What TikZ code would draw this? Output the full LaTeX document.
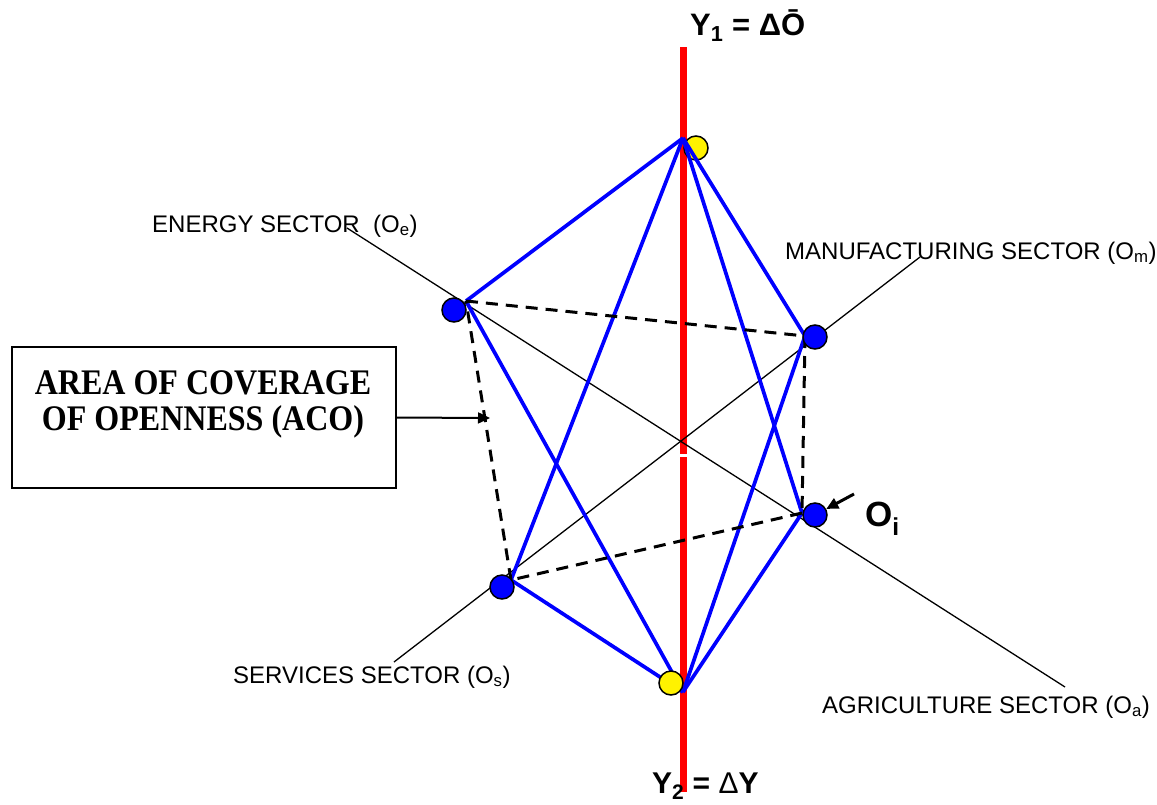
\documentclass[tikz,border=0pt]{standalone}
\usepackage{fontspec}
\usepackage{graphicx}
\setmainfont{Liberation Sans}
\newfontfamily\timesfont{Liberation Serif}
\usetikzlibrary{arrows.meta}

\begin{document}
\begin{tikzpicture}[x=1pt,y=-1pt,
  redaxis/.style={draw=red,line width=7pt},
  sectoraxis/.style={draw=black,line width=1.3pt},
  edge/.style={draw=blue,line width=3.7pt},
  cover/.style={draw=black,line width=3pt,dash pattern=on 12pt off 8pt},
  sector/.style={circle,draw=black,line width=1.5pt,fill=blue,minimum size=24pt,inner sep=0pt},
  apex/.style={circle,draw=black,line width=1.5pt,fill=yellow,minimum size=24pt,inner sep=0pt},
  lab/.style={font=\fontsize{24}{28}\selectfont,anchor=base west,inner sep=0pt},
  pointer/.style={draw=black,line width=2pt,-{Triangle[length=12pt,width=11pt]}},
  acoline/.style={font=\timesfont\bfseries\fontsize{36}{28}\selectfont,anchor=base,inner sep=0pt}
]
\useasboundingbox (0,0) rectangle (1157,804);

% vertical axis Y, with its small break at the origin
\coordinate (ytop) at (683,47);
\coordinate (ymidA) at (683,454);
\coordinate (ymidB) at (683,457);
\coordinate (ybot) at (683,792);
\draw[redaxis] (ytop) -- (ymidA);
\draw[redaxis] (ymidB) -- (ybot);

% yellow marker at the upper apex
\node[apex] (ytopdot) at (696,148) {};

% sector axes
\coordinate (eEnd) at (347,228);
\coordinate (aEnd) at (1065,687);
\coordinate (mEnd) at (920,257);
\coordinate (sEnd) at (394,662);
\draw[sectoraxis] (eEnd) -- (aEnd);
\draw[sectoraxis] (mEnd) -- (sEnd);

% vertices of the double pyramid
\coordinate (T) at (683,138);
\coordinate (B) at (683,692);
\coordinate (vE) at (466,301);
\coordinate (vM) at (805,336);
\coordinate (vA) at (802,513);
\coordinate (vS) at (511,580);

\foreach \v in {vE,vS,vA,vM} {
  \draw[edge] (T) -- (\v);
  \draw[edge] (B) -- (\v);
}

% area of coverage of openness
\draw[cover] (vE) -- (vM);
\draw[cover] (vM) -- (vA);
\draw[cover] (vA) -- (vS);
\draw[cover] (vS) -- (vE);

% sector points
\node[sector] (Oe) at (454,310) {};
\node[sector] (Om) at (815,337) {};
\node[sector] (Oi) at (815,515) {};
\node[sector] (Os) at (502,587) {};

% yellow marker at the lower apex
\node[apex] (ybotdot) at (671,683) {};

% axis labels
\node[font=\bfseries\fontsize{31}{34}\selectfont,anchor=base west,inner sep=0pt] (y1lab) at (690,35) {Y\textsubscript{1} = ΔŌ};
\node[font=\bfseries\fontsize{30}{34}\selectfont,anchor=base west,inner sep=0pt] (y2lab) at (652,793) {Y\textsubscript{2} = {\mdseries Δ}Y};

\node[lab] (elab) at (152,232) {ENERGY SECTOR\ \ (O\textsubscript{e})};
\node[lab] (mlab) at (785,259) {MANUFACTURING SECTOR (O\textsubscript{m})};
\node[lab] (slab) at (233,683) {SERVICES SECTOR (O\textsubscript{s})};
\node[lab] (alab) at (822,713) {AGRICULTURE SECTOR (O\textsubscript{a})};

% O_i marker
\node[font=\bfseries\fontsize{35}{38}\selectfont,anchor=base west,inner sep=0pt] (oilab) at (865,526) {O\textsubscript{i}};
\coordinate (oiFrom) at (854,494);
\draw[pointer,line width=3pt] (oiFrom) -- (Oi);

% legend box
\node[draw=black,line width=2pt,minimum width=384pt,minimum height=141pt,inner sep=0pt] (acobox) at (204,417.5) {};
\node[acoline] (aco1) at (203,394) {\scalebox{0.89}[1]{AREA OF COVERAGE}};
\node[acoline] (aco2) at (203,430) {\scalebox{0.89}[1]{OF OPENNESS (ACO)}};
\coordinate (acoTip) at (490,418);
\draw[pointer] (acobox.east) -- (acoTip);

\end{tikzpicture}
\end{document}
